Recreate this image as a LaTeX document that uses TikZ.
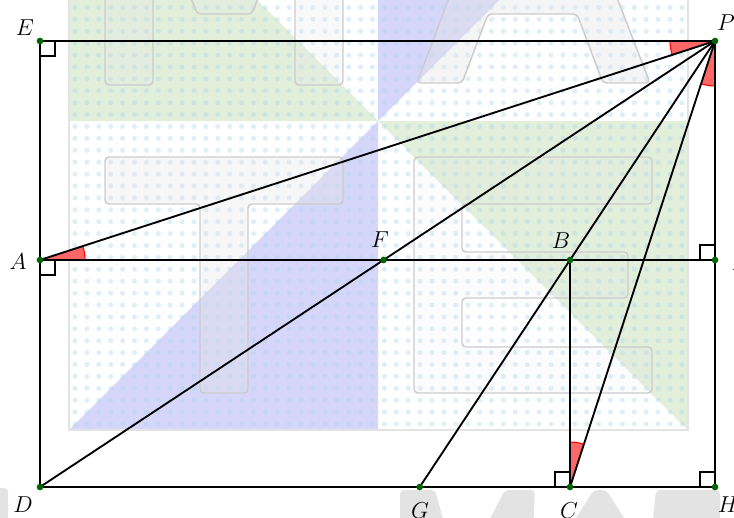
\documentclass[tikz,border=0pt]{standalone}
\usetikzlibrary{angles,calc}
\definecolor{wmgreen}{RGB}{226,239,219}
\definecolor{wmblue}{RGB}{214,214,250}
\definecolor{wmdot}{RGB}{170,215,240}
\definecolor{ptgreen}{RGB}{0,100,0}
\definecolor{angfill}{RGB}{255,102,102}
\begin{document}
\begin{tikzpicture}[x=0.75pt,y=-0.75pt,
  seg/.style={line width=1.4pt, black},
  ramark/.style={line width=1.1pt, black},
  angmark/.style={draw=red, fill=angfill, line width=0.8pt, angle radius=33.75pt},
  ptdot/.style={fill=ptgreen},
  lbl/.style={inner sep=0pt, font=\fontsize{16}{19}\selectfont},
  wmletter/.style={draw=gray!40, line width=1.1pt, fill=gray!20, fill opacity=0.2, rounded corners=3pt},
  wmsolid/.style={fill=gray!22, rounded corners=3pt}]
\clip (0,0) rectangle (734,517);
\fill[white] (0,0) rectangle (734,517);
% ---------- watermark ----------
\fill[wmgreen] (378,121) -- (69,121) -- (69,-188) -- cycle;
\fill[wmblue] (378,121) -- (378,-188) -- (687,-188) -- cycle;
\fill[wmgreen] (378,121) -- (688,121) -- (688,430) -- cycle;
\fill[wmblue] (378,121) -- (378,430) -- (69,430) -- cycle;
\foreach \i in {0,...,51} {
  \foreach \j in {0,...,35} {
    \fill[wmdot, opacity=0.4] (75+11.9*\i, 7.5+11.9*\j) circle[radius=1.9pt];
  }
}
\draw[gray!22, line width=1.5pt] (69,-5) rectangle (688,430);
% letters of the watermark
\draw[wmletter] (105,-10) rectangle (153,85);
\draw[wmletter] (295,-10) rectangle (343,85);
\draw[wmletter] (188,-10) -- (197,14) -- (252,14) -- (261,-10);
\draw[wmletter, fill opacity=0.35] (417,83) -- (452,-10) -- (614,-10) -- (650,83) -- (603,83) -- (577,14) -- (488,14) -- (462,83) -- cycle;
\draw[wmletter, fill opacity=0.3] (105,157) -- (343,157) -- (343,204) -- (248,204) -- (248,393) -- (200,393) -- (200,204) -- (105,204) -- cycle;
\draw[wmletter, fill opacity=0.1] (414,157) -- (652,157) -- (652,204) -- (462,204) -- (462,252) -- (628,252) -- (628,298) -- (462,298) -- (462,347) -- (652,347) -- (652,393) -- (414,393) -- cycle;
\fill[wmsolid] (-10,488) -- (8,488) -- (8,530) -- (-10,530) -- cycle;
\fill[wmsolid] (400,490) -- (435,490) -- (446,530) -- (400,530) -- cycle;
\fill[wmsolid] (505,490) -- (535,490) -- (533,530) -- (484,530) -- cycle;
\fill[wmsolid] (594,490) -- (606,490) -- (632,530) -- (568,530) -- cycle;
\fill[wmsolid] (656,490) -- (720,490) -- (720,530) -- (652,530) -- cycle;
% ---------- points ----------
\coordinate (E) at (40,41);
\coordinate (P) at (715,41);
\coordinate (A) at (40,260);
\coordinate (F) at (383.5,260);
\coordinate (B) at (570,260);
\coordinate (Aa) at (715,260);
\coordinate (D) at (40,487);
\coordinate (G) at (419.7,487);
\coordinate (C) at (570,487);
\coordinate (H) at (715,487);
% ---------- angle marks ----------
\pic[angmark] {angle = E--P--A};
\pic[angmark] {angle = C--P--H};
\pic[angmark] {angle = Aa--A--P};
\pic[angmark] {angle = P--C--B};
% ---------- segments ----------
\draw[seg] (E) -- (P) -- (H) -- (D) -- cycle;
\draw[seg] (A) -- (Aa);
\draw[seg] (P) -- (A);
\draw[seg] (P) -- (D);
\draw[seg] (P) -- (G);
\draw[seg] (P) -- (C);
\draw[seg] (B) -- (C);
% ---------- right angles ----------
\draw[ramark] ($(E)+(15,0)$) -- ++(0,15) -- ++(-15,0);
\draw[ramark] ($(A)+(15,0)$) -- ++(0,15) -- ++(-15,0);
\draw[ramark] ($(Aa)+(-15,0)$) -- ++(0,-15) -- ++(15,0);
\draw[ramark] ($(C)+(-15,0)$) -- ++(0,-15) -- ++(15,0);
\draw[ramark] ($(H)+(-15,0)$) -- ++(0,-15) -- ++(15,0);
% ---------- dots ----------
\foreach \p in {E,P,A,F,B,Aa,D,G,C,H} { \fill[ptdot] (\p) circle[radius=2.5pt]; }
% ---------- labels ----------
\node[lbl] (lE) at (25,28) {$E$};
\node[lbl] (lP) at (726,23) {$P$};
\node[lbl] (lA) at (18,262) {$A$};
\node[lbl] (lF) at (380,240) {$F$};
\node[lbl] (lB) at (561,241) {$B$};
\node[lbl] (lAa) at (743,262) {$A'$};
\node[lbl] (lD) at (23,505) {$D$};
\node[lbl] (lG) at (420,511) {$G$};
\node[lbl] (lC) at (569,511) {$C$};
\node[lbl] (lH) at (728,505) {$H$};
\end{tikzpicture}
\end{document}
